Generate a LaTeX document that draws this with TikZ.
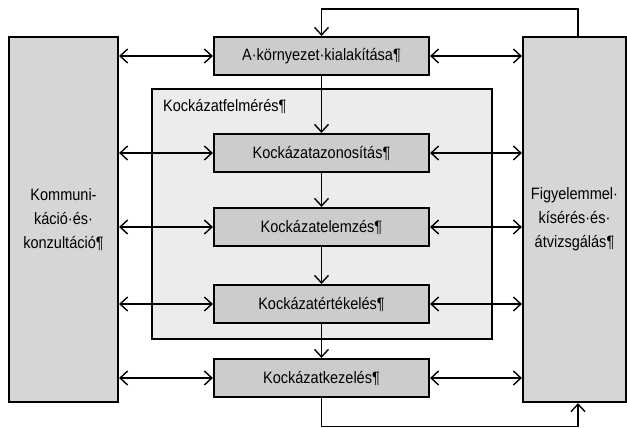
\documentclass[tikz,border=0pt]{standalone}
\usepackage{fontspec}
\setmainfont{Liberation Sans}[FakeStretch=0.88]
\usetikzlibrary{arrows.meta}

\tikzset{
	lepes/.style={draw,line width=2.2pt,fill=gray!40,minimum width=215pt,minimum height=38pt,inner sep=0pt,font=\fontsize{16.5}{19}\selectfont},
	oldal/.style={draw,line width=2.2pt,fill=gray!32,minimum height=365pt,inner sep=0pt,align=center,font=\fontsize{16.5}{24}\selectfont},
	nyil/.style={line width=1.4pt,-{Straight Barb[length=7.5pt,width=14pt,line width=1.4pt]}},
	kettos/.style={line width=1.4pt,{Straight Barb[length=7.5pt,width=14pt,line width=1.4pt]}-{Straight Barb[length=7.5pt,width=14pt,line width=1.4pt]}},
}

\begin{document}
\begin{tikzpicture}[x=1pt,y=1pt]
		\useasboundingbox (0,0) rectangle (627,-428);
		%the frame of the assessment
		\node [draw,line width=1.4pt,fill=gray!15,minimum width=340pt,minimum height=250pt,inner sep=0pt] (felmeres) at (322,-214) {};
		\node [anchor=base west,inner sep=0pt,font=\fontsize{16.5}{19}\selectfont] (felmcim) at (163,-111) {Kockázatfelmérés¶};
		%side boxes
		\node [oldal,minimum width=109pt] (kommunikacio) at (63.5,-219.5) {Kommuni-\\káció·és·\\konzultáció¶};
		\node [oldal,minimum width=103pt] (figyeles) at (574.5,-219.5) {Figyelemmel·\\kísérés·és·\\átvizsgálás¶};
		%the steps
		\node [lepes] (kornyezet) at (321.5,-56) {A·környezet·kialakítása¶};
		\node [lepes] (azonositas) at (321.5,-153) {Kockázatazonosítás¶};
		\node [lepes] (elemzes) at (321.5,-227) {Kockázatelemzés¶};
		\node [lepes] (ertekeles) at (321.5,-304) {Kockázatértékelés¶};
		\node [lepes] (kezeles) at (321.5,-378) {Kockázatkezelés¶};
		%down the steps
		\draw [nyil] (kornyezet) -- (azonositas);
		\draw [nyil] (azonositas) -- (elemzes);
		\draw [nyil] (elemzes) -- (ertekeles);
		\draw [nyil] (ertekeles) -- (kezeles);
		%both sides
		\foreach \s in {kornyezet,azonositas,elemzes,ertekeles,kezeles}{
			\draw [kettos] (kommunikacio.east |- \s.west) -- (\s.west);
			\draw [kettos] (\s.east) -- (figyeles.west |- \s.east);
		}
		%feedback round the outside
		\draw [nyil] ([xshift=3.5pt]figyeles.north) -- ++(0,27) -| (kornyezet.north);
		\draw [nyil] (kezeles.south) -- ++(0,-28.5) -| ([xshift=3.5pt]figyeles.south);
\end{tikzpicture}
\end{document}
